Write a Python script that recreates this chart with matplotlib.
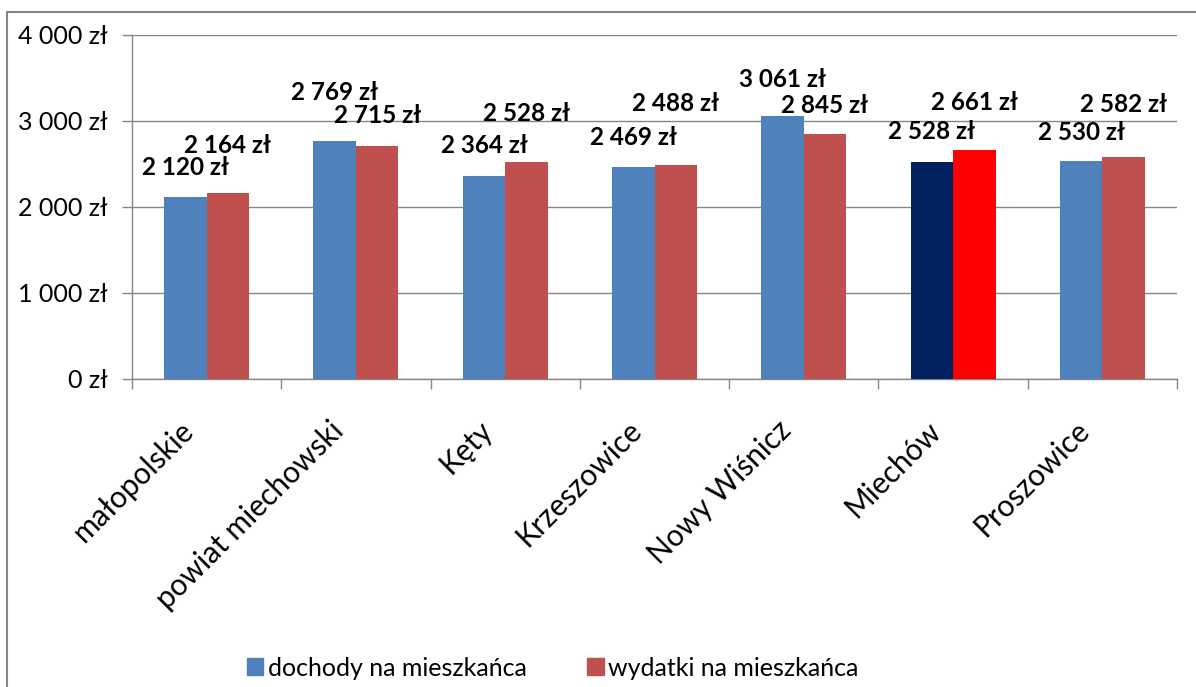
"""Dochody i wydatki na mieszkańca - wykres słupkowy w stylu Excela.

Run:  python plot.py
Output: out.png
"""
import matplotlib
matplotlib.use("Agg")
import matplotlib.pyplot as plt  # noqa: E402
from matplotlib.patches import Rectangle  # noqa: E402

plt.rcParams["font.family"] = ["Lato", "DejaVu Sans"]

# data
categories = ["małopolskie", "powiat miechowski", "Kęty", "Krzeszowice",
              "Nowy Wiśnicz", "Miechów", "Proszowice"]
dochody = [2120, 2769, 2364, 2469, 3061, 2528, 2530]
wydatki = [2164, 2715, 2528, 2488, 2845, 2661, 2582]
series_names = ["dochody na mieszkańca", "wydatki na mieszkańca"]
highlight = "Miechów"
y_ticks = [0, 1000, 2000, 3000, 4000]

# label lift above the bar top (pixels) - labels were dragged by hand in Excel
lift_doch = [29, 48, 30, 29, 36, 30, 29]
lift_wyd = [47, 30, 48, 62, 29, 48, 52]

BLUE, RED = "#4F81BD", "#C0504D"
NAVY, BRIGHT_RED = "#002060", "#FF0000"
GRID = "#868686"

W, H = 1196, 687
PX = 0.72  # points per pixel at dpi 100


def zl(v):
    s = f"{v:,}".replace(",", " ")
    return f"{s} zł"


def main():
    fig = plt.figure(figsize=(W / 100, H / 100), dpi=100)
    ax = fig.add_axes([132 / W, (H - 379) / H, (1177 - 132) / W, 344 / H])

    bw = 0.285
    xs = list(range(len(categories)))
    col_d = [NAVY if c == highlight else BLUE for c in categories]
    col_w = [BRIGHT_RED if c == highlight else RED for c in categories]
    ax.bar([x - bw / 2 for x in xs], dochody, bw, color=col_d, zorder=3)
    ax.bar([x + bw / 2 for x in xs], wydatki, bw, color=col_w, zorder=3)

    for x, v, d in zip(xs, dochody, lift_doch):
        ax.annotate(zl(v), (x - bw / 2, v), xytext=(0, d * PX), textcoords="offset points",
                    ha="center", va="center", fontsize=17.5, fontweight="bold", zorder=4)
    for x, v, d in zip(xs, wydatki, lift_wyd):
        ax.annotate(zl(v), (x + bw / 2, v), xytext=(0, d * PX), textcoords="offset points",
                    ha="center", va="center", fontsize=17.5, fontweight="bold", zorder=4)

    ax.set_xlim(-0.5, len(categories) - 0.5)
    ax.set_ylim(0, 4000)
    ax.set_yticks(y_ticks)
    ax.set_yticklabels([zl(t) for t in y_ticks], fontsize=18)
    ax.yaxis.grid(True, color=GRID, lw=1.0, zorder=0)
    ax.tick_params(axis="y", length=10 * PX, color=GRID, width=1.0, pad=10)

    ax.set_xticks([x - 0.5 for x in xs] + [len(categories) - 0.5])
    ax.set_xticklabels([])
    ax.tick_params(axis="x", length=10 * PX, color=GRID, width=1.0)
    for x, name in zip(xs, categories):
        ax.annotate(name, (x, 0), xycoords=("data", "axes fraction"),
                    xytext=(-27 * PX, -37 * PX), textcoords="offset points",
                    ha="right", va="top", rotation=45, rotation_mode="anchor",
                    fontsize=21.5)

    for side in ("top", "right"):
        ax.spines[side].set_visible(False)
    for side in ("left", "bottom"):
        ax.spines[side].set_color(GRID)
        ax.spines[side].set_linewidth(1.0)

    handles = [Rectangle((0, 0), 1, 1, color=BLUE), Rectangle((0, 0), 1, 1, color=RED)]
    fig.legend(handles, series_names, loc="center", bbox_to_anchor=(553 / W, 1 - 668 / H),
               ncol=2, frameon=False, fontsize=18, handlelength=0.65, handleheight=0.65,
               handletextpad=0.2, columnspacing=2.4, borderpad=0)

    # outer chart-area frame (bottom and right fall outside the crop)
    fig.add_artist(Rectangle((7 / W, -0.1), 1.2, 1 - 12 / H + 0.1, transform=fig.transFigure,
                             fill=False, edgecolor=GRID, lw=1.5))

    fig.savefig("out.png", dpi=100)
    plt.close(fig)


if __name__ == "__main__":
    main()
